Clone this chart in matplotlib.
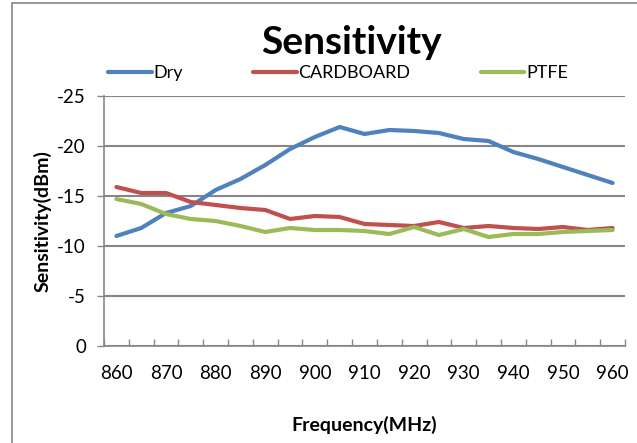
import matplotlib.pyplot as plt
from matplotlib.patches import Rectangle

plt.rcParams['font.family'] = ['Lato', 'DejaVu Sans']
plt.rcParams['axes.unicode_minus'] = False

# frequency points (MHz), one category every 5 MHz
freqs = [860, 865, 870, 875, 880, 885, 890, 895, 900, 905, 910,
         915, 920, 925, 930, 935, 940, 945, 950, 955, 960]

# sensitivity in dBm
dry = [-11.0, -11.8, -13.3, -14.0, -15.6, -16.7, -18.1, -19.7, -20.9, -21.9, -21.2,
       -21.6, -21.5, -21.3, -20.7, -20.5, -19.4, -18.7, -17.9, -17.1, -16.3]
cardboard = [-15.9, -15.3, -15.3, -14.4, -14.1, -13.8, -13.6, -12.7, -13.0, -12.9, -12.2,
             -12.1, -12.0, -12.4, -11.8, -12.0, -11.8, -11.7, -11.9, -11.6, -11.8]
ptfe = [-14.7, -14.2, -13.2, -12.7, -12.5, -12.0, -11.4, -11.8, -11.6, -11.6, -11.5,
        -11.2, -11.9, -11.1, -11.7, -10.9, -11.2, -11.2, -11.4, -11.5, -11.6]

series = [("Dry", dry, "#4F81BD"),
          ("CARDBOARD", cardboard, "#C0504D"),
          ("PTFE", ptfe, "#9BBB59")]

gray = "#868686"

fig = plt.figure(figsize=(6.37, 4.43), dpi=100)
# chart area border
fig.patches.append(Rectangle((12 / 637, -0.1), 1.0, 1 - 3 / 443 + 0.1,
                             transform=fig.transFigure, fill=False,
                             edgecolor=gray, linewidth=1.2))

ax = fig.add_axes([104 / 637, 1 - 346 / 443, (625 - 104) / 637, 250 / 443])

idx = list(range(len(freqs)))
lines = []
for name, vals, col in series:
    ln, = ax.plot(idx, vals, color=col, linewidth=3.0, label=name,
                  solid_capstyle='round', solid_joinstyle='round')
    lines.append(ln)

ax.set_xlim(-0.5, len(freqs) - 0.5)
ax.set_ylim(0, -25)
ax.set_yticks([0, -5, -10, -15, -20, -25])
ax.set_yticklabels(["0", "-5", "-10", "-15", "-20", "-25"])
ax.yaxis.grid(True, color=gray, linewidth=1.5)
ax.set_axisbelow(True)

# labels on every other category, tick marks between categories
ax.set_xticks(idx[::2])
ax.set_xticklabels([str(f) for f in freqs[::2]])
ax.set_xticks([i - 0.5 for i in range(len(freqs) + 1)], minor=True)
ax.tick_params(axis='x', which='major', length=0, pad=14, labelsize=13.5)
ax.tick_params(axis='x', which='minor', direction='in', length=5, color=gray, width=1)
ax.tick_params(axis='y', which='major', direction='out', length=5, color=gray,
               width=1, labelsize=13.5, pad=8)

for side in ['top', 'right']:
    ax.spines[side].set_visible(False)
for side in ['left', 'bottom']:
    ax.spines[side].set_color(gray)
    ax.spines[side].set_linewidth(1.2)

ax.set_xlabel("Frequency(MHz)", fontsize=14, fontweight='bold', labelpad=24)
ax.set_ylabel("Sensitivity(dBm)", fontsize=14, fontweight='bold', labelpad=4)

fig.text(351 / 637, 1 - 42 / 443, "Sensitivity", ha='center', va='center',
         fontsize=28, fontweight='bold')

fig.legend(handles=lines, loc='center', bbox_to_anchor=(338 / 637, 1 - 73 / 443),
           ncol=3, frameon=False, fontsize=13, handlelength=2.4, handletextpad=0.1,
           columnspacing=3.9)

fig.savefig("out.png", dpi=100)
